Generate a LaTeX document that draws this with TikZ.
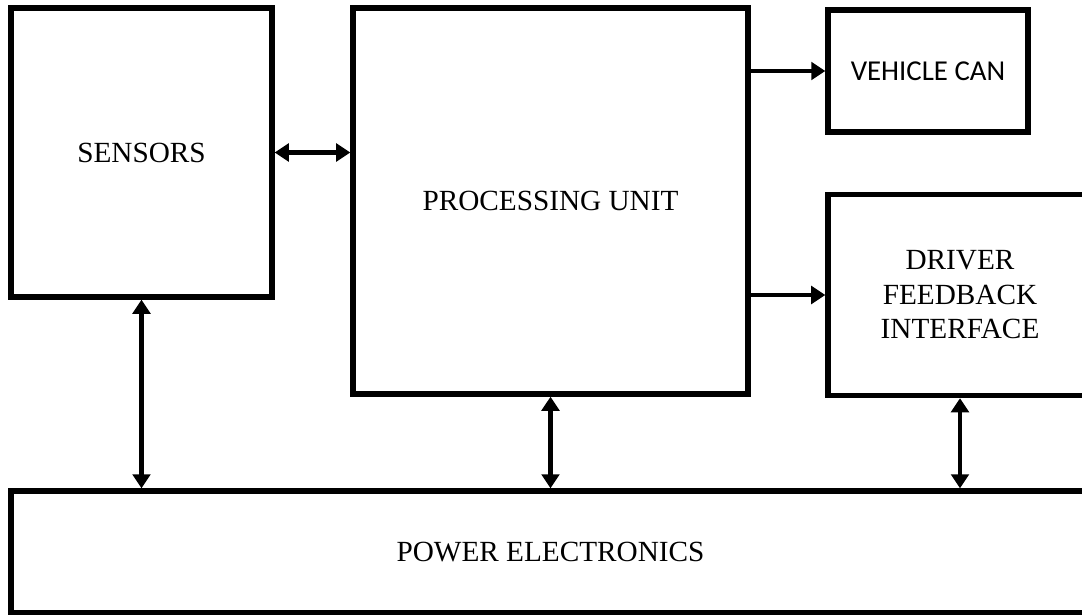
\documentclass[tikz,border=0pt]{standalone}
\usepackage{fontspec}
\setmainfont{Liberation Serif}
\newfontfamily\calibfont{Carlito}
\usetikzlibrary{arrows.meta, positioning, calc}

\begin{document}
\begin{tikzpicture}[x=0.025cm,y=-0.025cm,
  blk/.style={draw,line width=3.8pt,align=center,inner sep=0pt,
    font=\fontsize{20.8}{24.5}\selectfont},
  link/.style={{Triangle[length=10pt,width=12.5pt]}-{Triangle[length=10pt,width=12.5pt]},line width=3.1pt},
  arrow/.style={-{Triangle[length=10pt,width=12.5pt]},line width=3.1pt}]
  \useasboundingbox (0,0) rectangle (1082,615);
  \node[blk,minimum width=6.525cm,minimum height=7.225cm] (sens) at (141.5,152.5) {SENSORS};
  \node[blk,minimum width=9.875cm,minimum height=9.65cm] (pu) at (550.5,201) {PROCESSING UNIT};
  \node[blk,minimum width=5cm,minimum height=3.05cm,font=\calibfont\fontsize{20.5}{24}\selectfont] (can) at (928,71) {VEHICLE CAN};
  \node[blk,minimum width=6.6cm,minimum height=5.025cm] (drv) at (960,295) {DRIVER\\FEEDBACK\\INTERFACE};
  \node[blk,minimum width=26.975cm,minimum height=3.05cm] (pwr) at (550.5,552) {POWER ELECTRONICS};
  % links between the blocks
  \draw[link] (sens.east) -- (sens.east -| pu.west);
  \draw[arrow] (pu.east |- can.west) -- (can.west);
  \draw[arrow] (pu.east |- drv.west) -- (drv.west);
  \draw[link] (sens.south) -- (sens.south |- pwr.north);
  \draw[link] (pu.south) -- (pu.south |- pwr.north);
  \draw[link] (drv.south) -- (drv.south |- pwr.north);
\end{tikzpicture}
\end{document}
